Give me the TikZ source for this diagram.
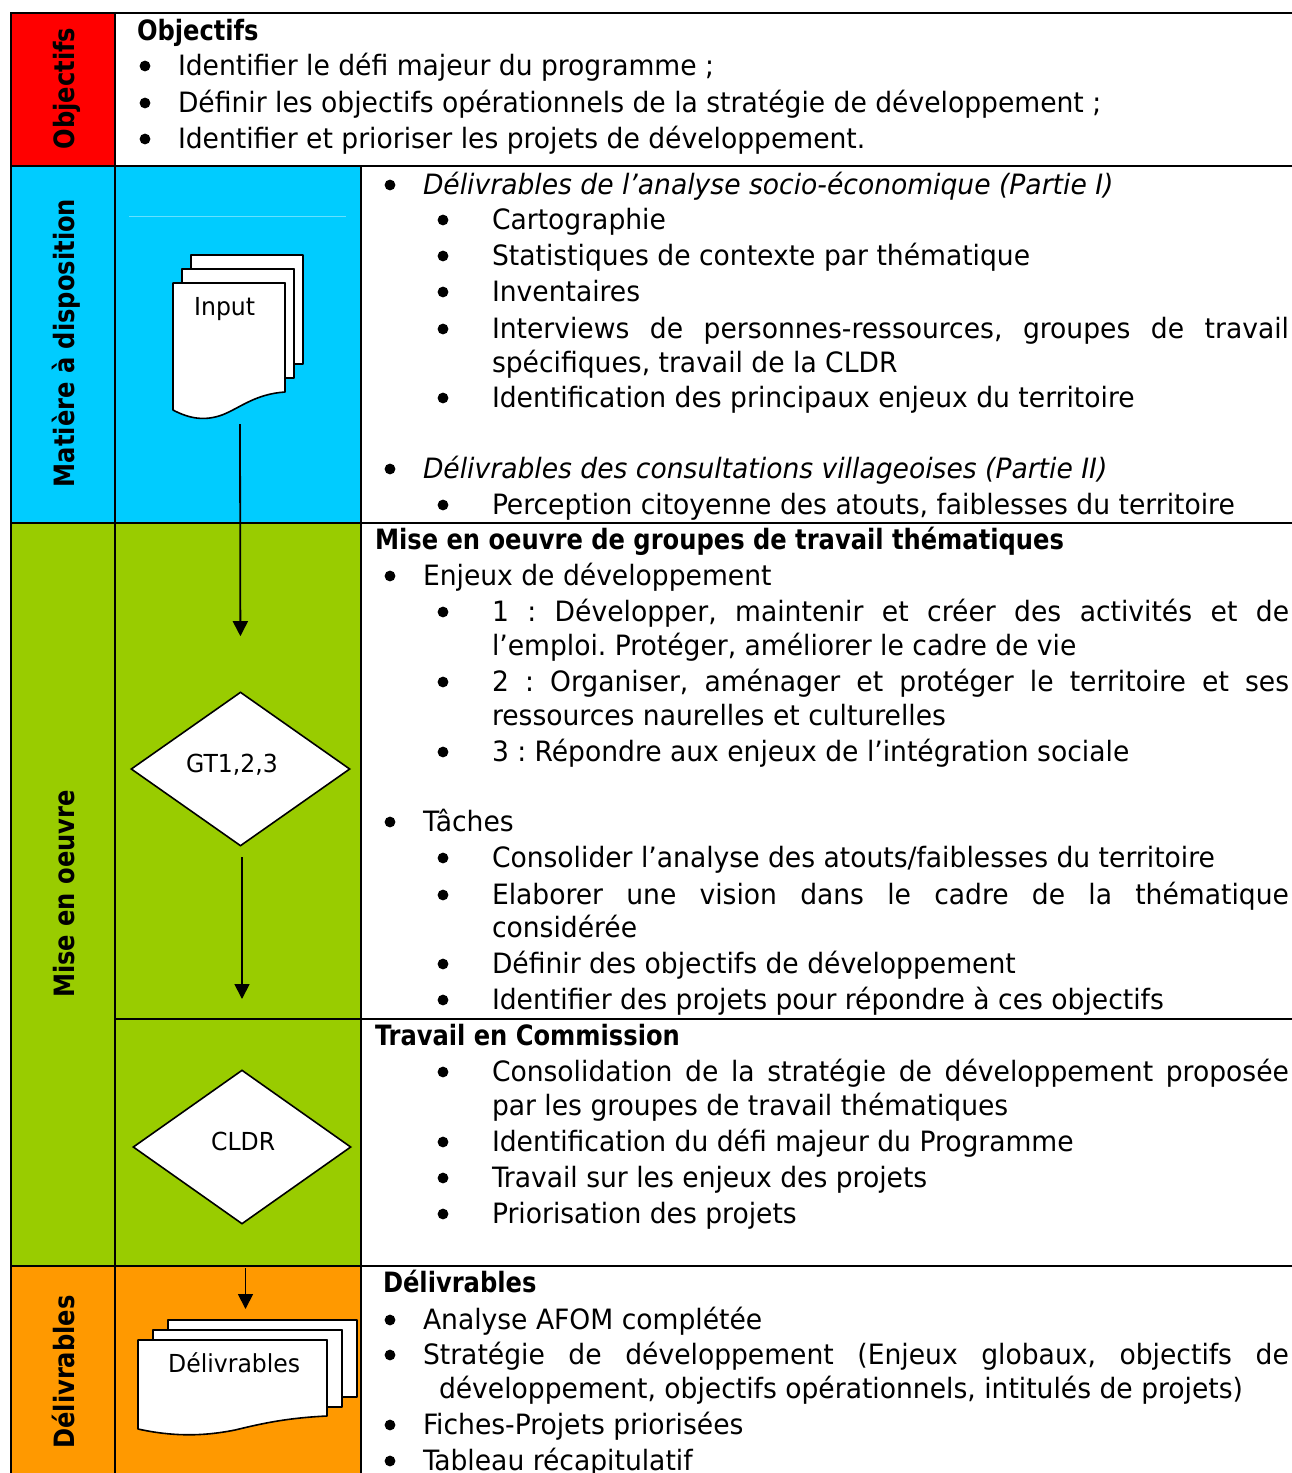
\documentclass[tikz,border=0pt]{standalone}
\usepackage{fontspec}
\setmainfont{DejaVu Sans Condensed}[FakeStretch=1.055,BoldFeatures={FakeStretch=0.96}]
\usetikzlibrary{arrows.meta,shapes.geometric}
\newcounter{tcnt}
\newcommand{\bodysize}{\fontsize{28}{32}\selectfont}
\newcommand{\smallsize}{\fontsize{24.8}{28}\selectfont}
\newcommand{\sidesize}{\fontsize{28}{32}\selectfont\bfseries}
\tikzset{
  txt/.style={anchor=base west,inner sep=0pt,outer sep=0pt,font=\bodysize},
  sidetxt/.style={anchor=base,rotate=90,inner sep=0pt,font=\sidesize},
  doclabel/.style={anchor=base west,inner sep=0pt,font=\smallsize},
  grid/.style={line width=2pt,draw=black},
  docpage/.style={line width=1.6pt,draw=black,fill=white,line join=round},
  flowbox/.style={shape=diamond,draw=black,fill=white,line width=1.6pt,inner sep=0pt},
  flow/.style={line width=1.8pt,-{Triangle[width=15pt,length=15pt]}},
  dot/.style={fill=black}
}
% line at x, baseline y
\newcommand{\tl}[3]{\stepcounter{tcnt}\node[txt] (t\thetcnt) at (#1,#2) {#3};}
% justified line from x to right edge 1289
\newcommand{\jl}[3]{\stepcounter{tcnt}\pgfmathsetmacro{\jw}{1289-#1}\node[txt] (t\thetcnt) at (#1,#2) {\makebox[\jw pt][s]{#3}};}
\newcommand{\bu}[2]{\fill[dot] (#1,#2-9) circle (5.4);}
\newcommand{\la}[2]{\bu{390}{#1}\tl{423}{#1}{#2}}
\newcommand{\lb}[2]{\bu{443}{#1}\tl{492}{#1}{#2}}
\newcommand{\lbj}[2]{\bu{443}{#1}\jl{492}{#1}{#2}}
\begin{document}
\frenchspacing
\begin{tikzpicture}[x=1pt,y=-1pt]
\useasboundingbox (0,0) rectangle (1292,1473);
\clip (0,0) rectangle (1292,1473);
% colour bands
\fill[red] (11,13) rectangle (115,166);
\fill[fill={rgb,255:red,0;green,204;blue,255}] (11,166) rectangle (361,523);
\fill[fill={rgb,255:red,153;green,204;blue,0}] (11,523) rectangle (361,1266);
\fill[fill={rgb,255:red,255;green,153;blue,0}] (11,1266) rectangle (361,1480);
\draw[line width=0.6pt,draw={rgb,255:red,102;green,224;blue,255}] (129,216) -- (346,216);
% grid
\draw[grid] (11,13) -- (1292,13);
\draw[grid] (11,166) -- (1292,166);
\draw[grid] (11,523) -- (1292,523);
\draw[grid] (115,1019) -- (1292,1019);
\draw[grid] (11,1266) -- (1292,1266);
\draw[grid] (11,12) -- (11,1480);
\draw[grid] (115,12) -- (115,1480);
\draw[grid] (361,166) -- (361,1480);
% side labels
\node[sidetxt] (sobj) at (74,88.5) {Objectifs};
\node[sidetxt] (smat) at (74,343) {Matière à disposition};
\node[sidetxt] (smis) at (74,894) {Mise en oeuvre};
\node[sidetxt] (sdel) at (74,1372) {Délivrables};
% input document stack
\draw[docpage] (191,255) -- (303,255) -- (303,364) -- (294,364) -- (294,269) -- (191,269) -- cycle;
\draw[docpage] (182,269) -- (294,269) -- (294,378) -- (285,378) -- (285,283) -- (182,283) -- cycle;
\draw[docpage] (173,283) -- (285,283) -- (285,392) .. controls (255,394) and (240,408) .. (222,415) .. controls (205,421) and (190,419) .. (173,410) -- cycle;
\node[doclabel] (inlab) at (194,315) {Input};
\coordinate (inout) at (240,424);
% diamonds
\node[flowbox,minimum width=219pt,minimum height=154pt,aspect=1.42] (gt) at (240.5,769) {};
\node[doclabel] (gtlab) at (186,772.5) {GT1,2,3};
\coordinate (gtout) at (242,857);
\coordinate (gtend) at (242,999);
\node[flowbox,minimum width=218pt,minimum height=154pt,aspect=1.42] (cldr) at (242,1147) {};
\node[doclabel] (cldrlab) at (211,1150) {CLDR};
\coordinate (delin) at (245.5,1268);
\coordinate (delend) at (245.5,1309);
% deliverable stack
\draw[docpage] (168,1320) -- (357,1320) -- (357,1397) -- (342,1397) -- (342,1330) -- (168,1330) -- cycle;
\draw[docpage] (153,1330) -- (342,1330) -- (342,1407) -- (327,1407) -- (327,1340) -- (153,1340) -- cycle;
\draw[docpage] (138,1340) -- (327,1340) -- (327,1416) .. controls (285,1418) and (260,1424) .. (235,1430) .. controls (200,1437) and (170,1436) .. (138,1429) -- cycle;
\node[doclabel] (dellab) at (168,1372.5) {Délivrables};
% connectors
\draw[flow,shorten >=55pt] (inout) -- (gt.north);
\draw[flow] (gtout) -- (gtend);
\draw[flow] (delin) -- (delend);
% top block
\tl{137}{40}{\bfseries Objectifs}
\bu{145}{75}\tl{178}{75}{Identifier le défi majeur du programme ;}
\bu{145}{112}\tl{178}{112}{Définir les objectifs opérationnels de la stratégie de développement ;}
\bu{145}{148}\tl{178}{148}{Identifier et prioriser les projets de développement.}
% matière
\la{194}{\itshape Délivrables de l’analyse socio-économique (Partie I)}
\lb{229}{Cartographie}
\lb{265}{Statistiques de contexte par thématique}
\lb{301}{Inventaires}
\lbj{338}{Interviews de personnes-ressources, groupes de travail}
\tl{492}{372}{spécifiques, travail de la CLDR}
\lb{407}{Identification des principaux enjeux du territoire}
\la{478}{\itshape Délivrables des consultations villageoises (Partie II)}
\lb{514}{Perception citoyenne des atouts, faiblesses du territoire}
% mise en oeuvre
\tl{375}{549}{\bfseries Mise en oeuvre de groupes de travail thématiques}
\la{585}{Enjeux de développement}
\lbj{621}{1 : Développer, maintenir et créer des activités et de}
\tl{492}{655}{l’emploi. Protéger, améliorer le cadre de vie}
\lbj{691}{2 : Organiser, aménager et protéger le territoire et ses}
\tl{492}{725}{ressources naurelles et culturelles}
\lb{761}{3 : Répondre aux enjeux de l’intégration sociale}
\la{831}{Tâches}
\lb{867}{Consolider l’analyse des atouts/faiblesses du territoire}
\lbj{904}{Elaborer une vision dans le cadre de la thématique}
\tl{492}{937}{considérée}
\lb{973}{Définir des objectifs de développement}
\lb{1009}{Identifier des projets pour répondre à ces objectifs}
% commission
\tl{375}{1045}{\bfseries Travail en Commission}
\lbj{1081}{Consolidation de la stratégie de développement proposée}
\tl{492}{1115}{par les groupes de travail thématiques}
\lb{1151}{Identification du défi majeur du Programme}
\lb{1187}{Travail sur les enjeux des projets}
\lb{1223}{Priorisation des projets}
% délivrables
\tl{383}{1292}{\bfseries Délivrables}
\la{1329}{Analyse AFOM complétée}
\bu{390}{1364}\jl{423}{1364}{Stratégie de développement (Enjeux globaux, objectifs de}
\tl{439}{1398}{développement, objectifs opérationnels, intitulés de projets)}
\la{1434}{Fiches-Projets priorisées}
\la{1470}{Tableau récapitulatif}
\end{tikzpicture}
\end{document}
